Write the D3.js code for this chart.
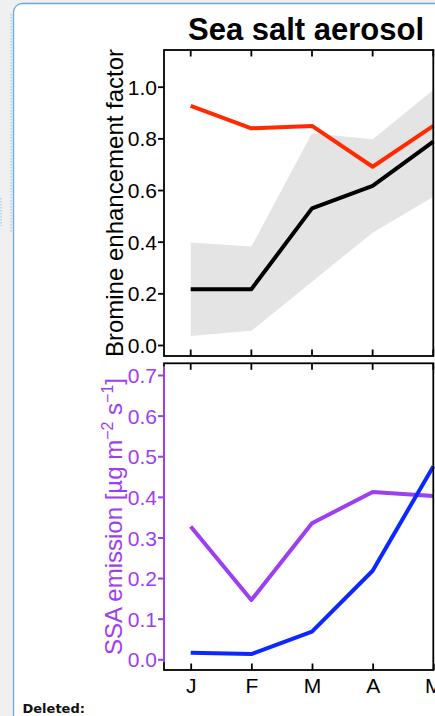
<!DOCTYPE html>
<html><head><meta charset="utf-8">
<script src="https://cdn.jsdelivr.net/npm/d3@7"></script>
<style>
html,body{margin:0;padding:0;background:#f0f0f0;}
svg{display:block;}
</style></head>
<body>
<svg id="c" width="435" height="716"></svg>
<script>
// ---- data ----
const months = ["Jan","Feb","Mar","Apr","May"];
const monthLabels = ["J","F","M","A","M"];
const brEF = [0.216, 0.216, 0.529, 0.616, 0.787];       // black line
const brEFModel = [0.926, 0.839, 0.848, 0.690, 0.848];  // red line
const bandUpper = [0.397, 0.381, 0.820, 0.797, 0.987];
const bandLower = [0.035, 0.055, 0.245, 0.435, 0.574];
const ssaPurple = [0.327, 0.146, 0.335, 0.412, 0.402];
const ssaBlue = [0.016, 0.013, 0.068, 0.218, 0.475];
const topTicks = [0.0, 0.2, 0.4, 0.6, 0.8, 1.0];
const botTicks = [0.0, 0.1, 0.2, 0.3, 0.4, 0.5, 0.6, 0.7];

const svg = d3.select("#c");
const font = "'Liberation Sans', Arial, Helvetica, sans-serif";
const purple = "#9d3ef0";

// page background / document box
svg.append("rect").attr("x",0).attr("y",0).attr("width",435).attr("height",716).attr("fill","#f0f0f0");
svg.append("rect").attr("x",13.5).attr("y",3.5).attr("width",460).attr("height",740).attr("rx",9)
  .attr("fill","#ffffff").attr("stroke","#6aa9dc").attr("stroke-width",1.3);
svg.append("line").attr("x1",11).attr("x2",11).attr("y1",14).attr("y2",232)
  .attr("stroke","#8ec0e8").attr("stroke-width",1).attr("stroke-dasharray","1.5,1.5");
svg.append("line").attr("x1",1).attr("x2",1).attr("y1",198).attr("y2",226)
  .attr("stroke","#8ec0e8").attr("stroke-width",1).attr("stroke-dasharray","1.5,1.5");

// scales
const x = d3.scalePoint().domain(months).range([190.7, 433.3]);
const yTop = d3.scaleLinear().domain([0,1]).range([345, 86.7]);
const yBot = d3.scaleLinear().domain([0,0.7]).range([659.3, 375]);

const L = 164, R = 433.3;
const topP = {t:50, b:356};
const botP = {t:363.3, b:670};

// title
svg.append("text").attr("x",188).attr("y",39.5).attr("font-family",font).attr("font-weight","bold")
  .attr("font-size",31).attr("fill","#000").text("Sea salt aerosol");

// ---- top panel ----
const gT = svg.append("g");
gT.append("path").datum(months.map((m,i)=>i))
  .attr("d", d3.area().x(i=>x(months[i])).y0(i=>yTop(bandLower[i])).y1(i=>yTop(bandUpper[i])))
  .attr("fill","#e4e4e4");
gT.append("path").datum(brEFModel)
  .attr("d", d3.line().x((d,i)=>x(months[i])).y(d=>yTop(d)))
  .attr("fill","none").attr("stroke","#ff2a00").attr("stroke-width",4).attr("stroke-linejoin","round");
gT.append("path").datum(brEF)
  .attr("d", d3.line().x((d,i)=>x(months[i])).y(d=>yTop(d)))
  .attr("fill","none").attr("stroke","#000").attr("stroke-width",4).attr("stroke-linejoin","round");
gT.append("rect").attr("x",L).attr("y",topP.t).attr("width",R-L).attr("height",topP.b-topP.t)
  .attr("fill","none").attr("stroke","#000").attr("stroke-width",1.8);
// x ticks inward top and bottom
const xtT = gT.append("g");
months.forEach(m=>{
  xtT.append("line").attr("x1",x(m)).attr("x2",x(m)).attr("y1",topP.t).attr("y2",topP.t+6.5).attr("stroke","#000").attr("stroke-width",1.8);
  xtT.append("line").attr("x1",x(m)).attr("x2",x(m)).attr("y1",topP.b).attr("y2",topP.b-6.5).attr("stroke","#000").attr("stroke-width",1.8);
});
const axT = gT.append("g").attr("transform",`translate(${L},0)`)
  .call(d3.axisLeft(yTop).tickValues(topTicks).tickFormat(d3.format(".1f")).tickSize(6).tickPadding(1));
axT.select(".domain").remove();
axT.selectAll(".tick line").attr("stroke","#000").attr("stroke-width",1.8);
axT.selectAll(".tick text").attr("font-family",font).attr("font-size",21).attr("fill","#000").attr("dy","0.36em");
svg.append("text").attr("transform",`translate(123,203) rotate(-90)`).attr("text-anchor","middle")
  .attr("font-family",font).attr("font-size",24).attr("fill","#000").text("Bromine enhancement factor");

// ---- bottom panel ----
const gB = svg.append("g");
gB.append("path").datum(ssaPurple)
  .attr("d", d3.line().x((d,i)=>x(months[i])).y(d=>yBot(d)))
  .attr("fill","none").attr("stroke",purple).attr("stroke-width",4).attr("stroke-linejoin","round");
gB.append("path").datum(ssaBlue)
  .attr("d", d3.line().x((d,i)=>x(months[i])).y(d=>yBot(d)))
  .attr("fill","none").attr("stroke","#0a28ff").attr("stroke-width",4).attr("stroke-linejoin","round");
gB.append("rect").attr("x",L).attr("y",botP.t).attr("width",R-L).attr("height",botP.b-botP.t)
  .attr("fill","none").attr("stroke","#000").attr("stroke-width",1.8);
gB.append("line").attr("x1",L).attr("x2",L).attr("y1",botP.t+3).attr("y2",yBot(0)+3)
  .attr("stroke",purple).attr("stroke-width",2);
const xtB = gB.append("g");
months.forEach(m=>{
  xtB.append("line").attr("x1",x(m)).attr("x2",x(m)).attr("y1",botP.t).attr("y2",botP.t+6.5).attr("stroke","#000").attr("stroke-width",1.8);
});
const axX = gB.append("g").attr("transform",`translate(0,${botP.b})`)
  .call(d3.axisBottom(x).tickFormat((d,i)=>monthLabels[i]).tickSize(-6.5).tickPadding(8));
axX.select(".domain").remove();
axX.selectAll(".tick line").attr("stroke","#000").attr("stroke-width",1.8);
axX.selectAll(".tick text").attr("font-family",font).attr("font-size",21).attr("fill","#000");
const axB = gB.append("g").attr("transform",`translate(${L},0)`)
  .call(d3.axisLeft(yBot).tickValues(botTicks).tickFormat(d3.format(".1f")).tickSize(6).tickPadding(1));
axB.select(".domain").remove();
axB.selectAll(".tick line").attr("stroke",purple).attr("stroke-width",2);
axB.selectAll(".tick text").attr("font-family",font).attr("font-size",21).attr("fill",purple).attr("dy","0.36em");
const yl = svg.append("text").attr("transform",`translate(121.5,516.5) rotate(-90)`).attr("text-anchor","middle")
  .attr("font-family",font).attr("font-size",24).attr("fill",purple);
yl.append("tspan").text("SSA emission [µg m");
yl.append("tspan").attr("font-size",16).attr("dy",-9).text("−2");
yl.append("tspan").attr("dy",9).text(" s");
yl.append("tspan").attr("font-size",16).attr("dy",-9).text("−1");
yl.append("tspan").attr("dy",9).text("]");

// footer text
svg.append("text").attr("x",22.5).attr("y",713).attr("font-family","'DejaVu Sans', Verdana, sans-serif")
  .attr("font-weight","bold").attr("font-size",13).attr("fill","#111").text("Deleted:");
</script>
</body></html>
